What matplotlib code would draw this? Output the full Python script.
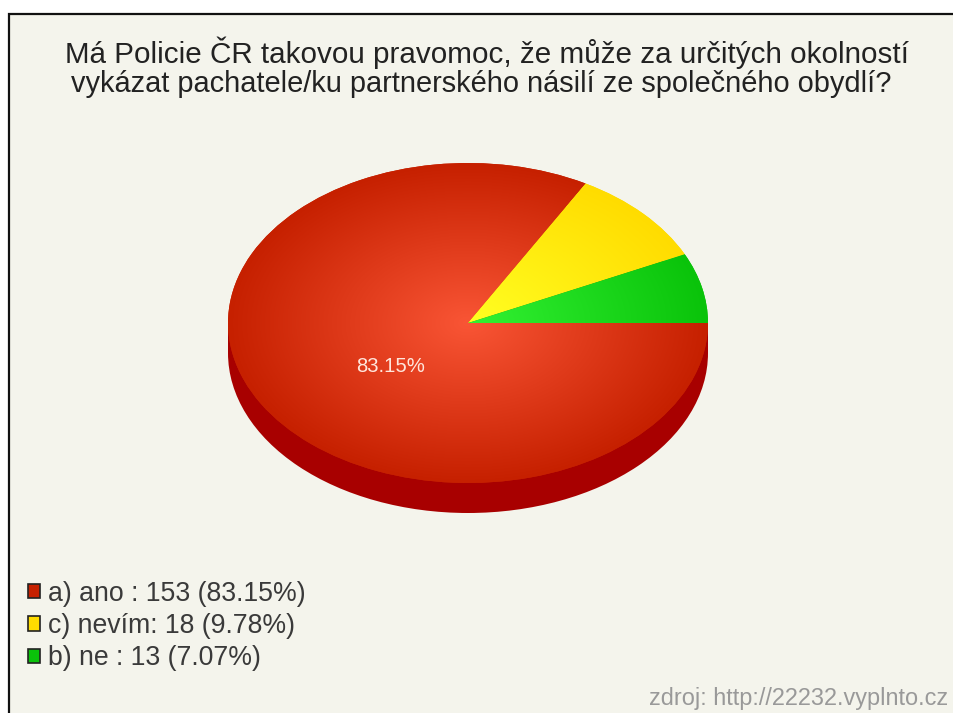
import numpy as np
import matplotlib
matplotlib.use("Agg")
import matplotlib.pyplot as plt
from matplotlib.colors import LinearSegmentedColormap
from matplotlib.patches import Ellipse, Rectangle, Patch

title_lines = ["Má Policie ČR takovou pravomoc, že může za určitých okolností",
               "vykázat pachatele/ku partnerského násilí ze společného obydlí?"]
categories = ["a) ano :", "c) nevím:", "b) ne :"]
counts = [153, 18, 13]
percents = [83.15, 9.78, 7.07]
edge_colors = ["#C62000", "#FFDC00", "#0AC30A"]
center_colors = ["#F95535", "#FFFF22", "#33F233"]
side_color = "#A80000"
bg = "#F4F4EC"
source = "zdroj: http://22232.vyplnto.cz"

W, H = 954, 713
plt.rcParams["font.family"] = "Liberation Sans"
fig = plt.figure(figsize=(W / 100, H / 100), dpi=100, facecolor="white")

# page layer in pixel coordinates
page = fig.add_axes([0, 0, 1, 1], zorder=0)
page.set_xlim(0, W)
page.set_ylim(H, 0)
page.axis("off")
page.add_patch(Rectangle((9, 14), W + 20, H + 20, facecolor=bg, edgecolor="#111111", linewidth=1.6))

page.text(486.5, 53, title_lines[0], ha="center", va="center", fontsize=21.3, color="#222222")
page.text(481, 84, title_lines[1], ha="center", va="center", fontsize=20.9, color="#222222")
page.text(948, 699, source, ha="right", va="center", fontsize=16.9, color="#999999")

# pie layer: unit circle squashed to the ellipse
cx, cy, rx, ry, depth = 468, 323, 240, 160, 30
ax = fig.add_axes([(cx - rx) / W, 1 - (cy + ry) / H, 2 * rx / W, 2 * ry / H], zorder=1)
ax.patch.set_alpha(0)
d = depth / ry

wedges, _ = ax.pie(counts, colors=edge_colors, startangle=0, counterclock=False, radius=1,
                   wedgeprops=dict(linewidth=0, zorder=1))
ax.set_aspect("auto")
ax.add_patch(Ellipse((0, -d), 2, 2, facecolor=side_color, edgecolor="none", zorder=0, clip_on=False))
ax.add_patch(Rectangle((-1, -d), 2, d, facecolor=side_color, edgecolor="none", zorder=0, clip_on=False))

xx, yy = np.meshgrid(np.linspace(-1, 1, 700), np.linspace(-1, 1, 700))
rr = np.clip(np.hypot(xx, yy), 0, 1)
for w, c0, c1 in zip(wedges, center_colors, edge_colors):
    w.set_clip_on(False)
    cmap = LinearSegmentedColormap.from_list("g", [c0, c1])
    im = ax.imshow(rr, extent=(-1, 1, -1, 1), origin="lower", cmap=cmap, vmin=0, vmax=1,
                   aspect="auto", zorder=2, interpolation="bilinear")
    im.set_clip_path(w)
ax.set_xlim(-1, 1)
ax.set_ylim(-1, 1)

overlay = fig.add_axes([0, 0, 1, 1], zorder=2)
overlay.set_xlim(0, W)
overlay.set_ylim(H, 0)
overlay.axis("off")
overlay.text(391, 367, f"{percents[0]:.2f}%", ha="center", va="center", fontsize=14.6, color="#FFE6DC")

# legend
labels = [f"{c} {n} ({p:.2f}%)" for c, n, p in zip(categories, counts, percents)]
handles = [Patch(facecolor=c, edgecolor="#222222", linewidth=1.2) for c in edge_colors]
leg = overlay.legend(handles, labels, loc="upper left", bbox_to_anchor=(17 / W, 1 - 570 / H),
                     frameon=False, fontsize=19.2, labelcolor="#3A3A3A", handlelength=0.47,
                     handleheight=0.46, handletextpad=0.28, labelspacing=0.24,
                     borderpad=0.4, borderaxespad=0)

fig.savefig("out.png", dpi=100, facecolor="white")
